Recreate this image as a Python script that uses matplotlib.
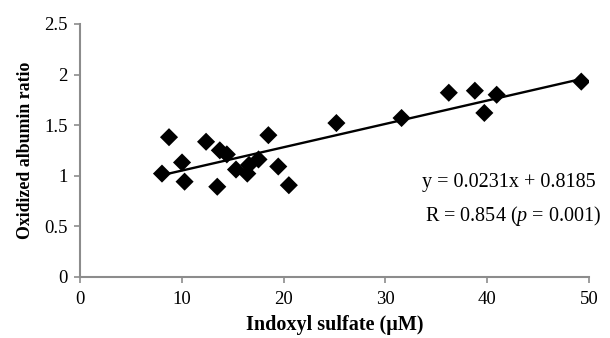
import matplotlib
matplotlib.use("Agg")
import matplotlib.pyplot as plt
import numpy as np

# Data
indoxyl_sulfate = [8.06, 8.75, 10.03, 10.28, 12.39, 13.49, 13.74, 14.43, 15.33, 16.44,
                   16.61, 17.54, 18.51, 19.48, 20.52, 25.19, 31.59, 36.23, 38.79, 39.72,
                   40.93, 49.24]
oxidized_ratio = [1.02, 1.38, 1.13, 0.94, 1.335, 0.89, 1.25, 1.21, 1.06, 1.02,
                  1.106, 1.16, 1.40, 1.09, 0.905, 1.52, 1.57, 1.82, 1.84, 1.62,
                  1.80, 1.93]
slope = 0.0231
intercept = 0.8185
x_ticks = [0, 10, 20, 30, 40, 50]
y_ticks = [0, 0.5, 1, 1.5, 2, 2.5]
y_tick_labels = ["0", "0.5", "1", "1.5", "2", "2.5"]
eq_text = "y = 0.0231x + 0.8185"
r_text = "R = 0.854 ($\\it{p}$ = 0.001)"

plt.rcParams['font.family'] = ['Liberation Serif', 'DejaVu Serif']
plt.rcParams['mathtext.fontset'] = 'custom'
plt.rcParams['mathtext.it'] = 'Liberation Serif:italic'
plt.rcParams['mathtext.rm'] = 'Liberation Serif'

fig = plt.figure(figsize=(6.10, 3.38), dpi=100)
ax = fig.add_axes([0.131, 0.1814, 0.8346, 0.7476])

ax.scatter(indoxyl_sulfate, oxidized_ratio, marker='D', s=85, color='black', zorder=3,
           edgecolors='none')
xs = np.array([min(indoxyl_sulfate), max(indoxyl_sulfate)])
ax.plot(xs, slope * xs + intercept, color='black', lw=1.7, zorder=2)

ax.set_xlim(0, 50)
ax.set_ylim(0, 2.5)
ax.set_xticks(x_ticks)
ax.set_xticklabels([str(t) for t in x_ticks])
ax.set_yticks(y_ticks)
ax.set_yticklabels(y_tick_labels)

grey = '#8c8c8c'
for s in ['top', 'right']:
    ax.spines[s].set_visible(False)
for s in ['left', 'bottom']:
    ax.spines[s].set_color(grey)
    ax.spines[s].set_linewidth(1.5)
ax.tick_params(axis='both', colors=grey, labelcolor='black', labelsize=13.5,
               length=4, width=1.2, direction='out')
ax.tick_params(axis='x', pad=6)
ax.tick_params(axis='y', pad=5)

ax.set_xlabel("Indoxyl sulfate (µM)", fontsize=14.5, fontweight='bold', labelpad=5)
ax.set_ylabel("Oxidized albumin ratio", fontsize=12.8, fontweight='bold', labelpad=7)

ax.text(33.56, 0.932, eq_text, fontsize=14.5, ha='left', va='center')
ax.text(33.9, 0.597, r_text, fontsize=14.5, ha='left', va='center', clip_on=False)

fig.savefig("out.png", dpi=100)
